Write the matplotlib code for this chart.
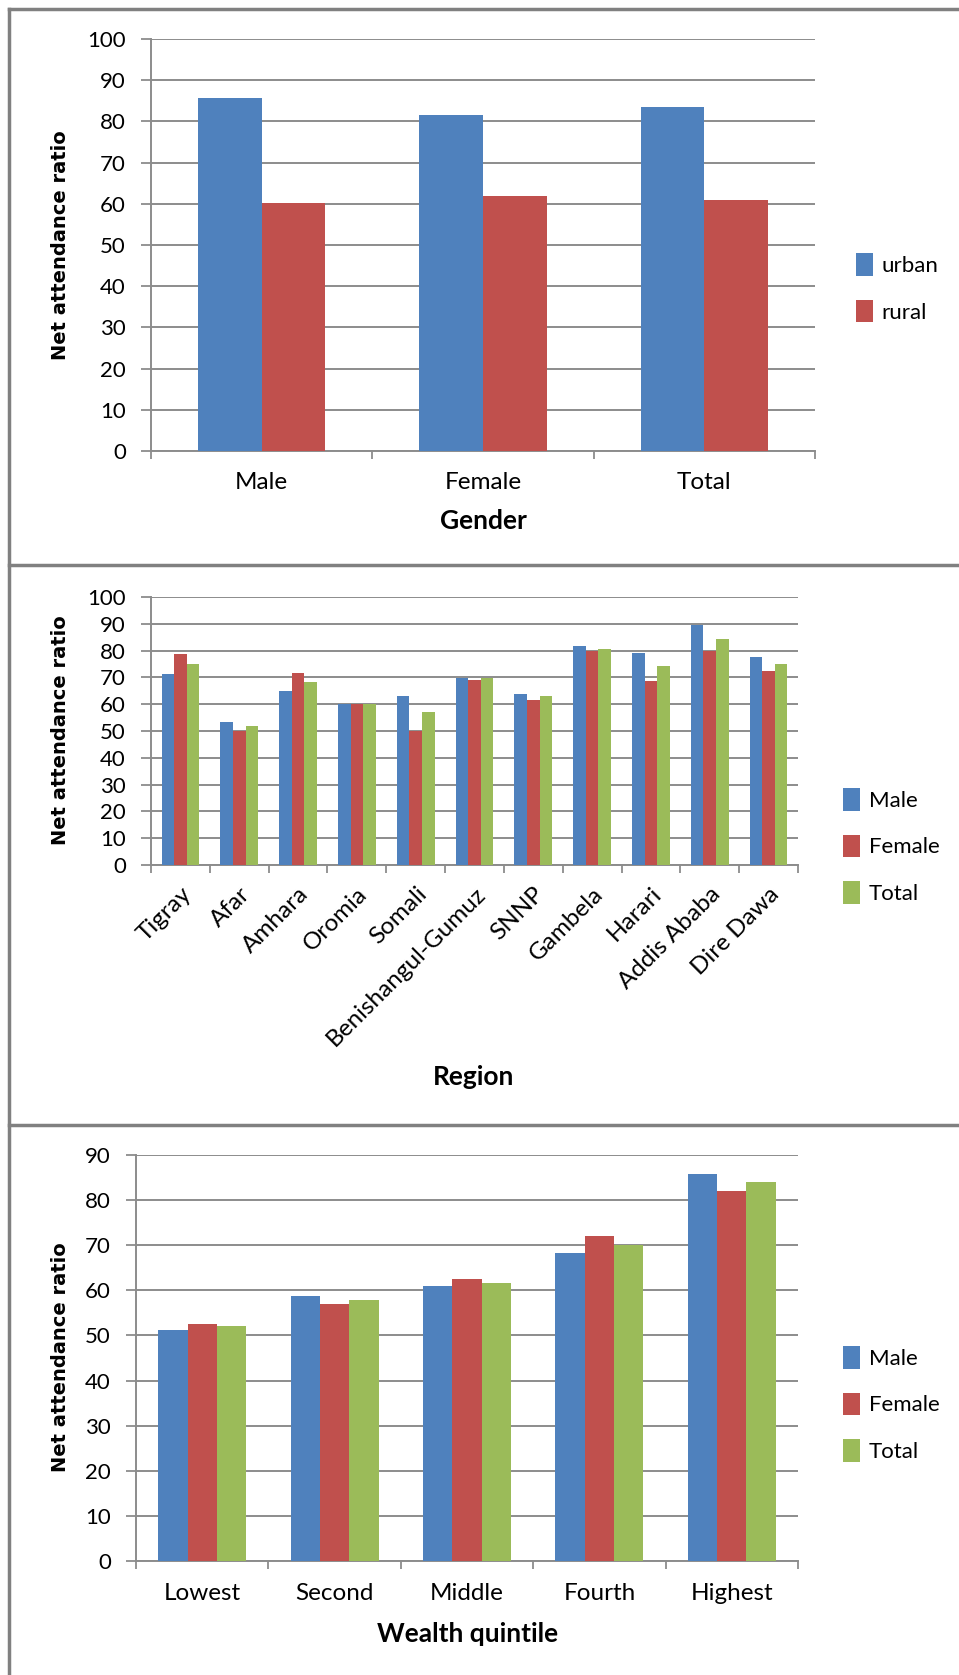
import matplotlib
matplotlib.use('Agg')
from matplotlib import pyplot as plt
from matplotlib.lines import Line2D
import numpy as np

plt.rcParams['font.family'] = ['Lato', 'DejaVu Sans']

# attendance by gender, urban vs rural
genders = ['Male', 'Female', 'Total']
urban = [85.8, 81.5, 83.5]
rural = [60.2, 62.0, 61.0]

# attendance by region
regions = ['Tigray', 'Afar', 'Amhara', 'Oromia', 'Somali', 'Benishangul-Gumuz',
           'SNNP', 'Gambela', 'Harari', 'Addis Ababa', 'Dire Dawa']
region_male = [71.3, 53.3, 65.0, 60.0, 63.0, 69.8, 63.9, 81.9, 79.1, 89.4, 77.5]
region_female = [78.7, 50.1, 71.8, 60.1, 50.1, 69.1, 61.6, 79.9, 68.6, 80.0, 72.3]
region_total = [75.0, 52.0, 68.1, 60.1, 57.1, 69.6, 63.0, 80.5, 74.2, 84.4, 75.1]

# attendance by wealth quintile
quintiles = ['Lowest', 'Second', 'Middle', 'Fourth', 'Highest']
wealth_male = [51.3, 58.7, 60.9, 68.2, 85.7]
wealth_female = [52.6, 57.0, 62.5, 72.0, 82.1]
wealth_total = [52.1, 57.8, 61.7, 70.0, 84.0]

BLUE, RED, GREEN = '#4F81BD', '#C0504D', '#9BBB59'
GRID = '#8c8c8c'
FRAME = '#808080'

W, H = 959, 1675
fig = plt.figure(figsize=(W / 100, H / 100), dpi=100)


def fx(x):
    return x / W


def fy(y):
    return 1 - y / H


def add_axes(left, top, right, bottom):
    return fig.add_axes([fx(left), fy(bottom), (right - left) / W, (bottom - top) / H])


def grouped_bars(ax, cats, series, colors, names, width, ymax):
    n = len(series)
    x = np.arange(len(cats))
    for i, (vals, c, name) in enumerate(zip(series, colors, names)):
        offs = (i - (n - 1) / 2) * width
        ax.bar(x + offs, vals, width, color=c, label=name, zorder=3)
    ax.set_xlim(-0.5, len(cats) - 0.5)
    ax.set_ylim(0, ymax)
    ax.set_yticks(np.arange(0, ymax + 1, 10))
    # category boundaries get the tick marks, centres get the labels
    ax.set_xticks(np.arange(len(cats) + 1) - 0.5)
    ax.set_xticklabels([])
    ax.set_xticks(x, minor=True)
    ax.tick_params(axis='x', which='major', length=6, width=1.3, color=GRID)
    ax.tick_params(axis='x', which='minor', length=0, labelsize=17.5)
    ax.tick_params(axis='y', length=7, width=1.3, color=GRID, labelsize=16, pad=11)
    ax.grid(axis='y', color=GRID, lw=1.4)
    ax.set_axisbelow(True)
    for s in ['top', 'right']:
        ax.spines[s].set_visible(False)
    for s in ['left', 'bottom']:
        ax.spines[s].set_color(GRID)
        ax.spines[s].set_linewidth(1.4)


def ylabel(ax, y):
    ax.set_ylabel('Net attendance ratio', family='DejaVu Sans', fontweight='bold', fontsize=14)
    ax.yaxis.set_label_coords(fx(61), fy(y), transform=fig.transFigure)
    ax.yaxis.label.set_va('center')


def xlabel(ax, text, x, y):
    ax.set_xlabel(text, fontweight='bold', fontsize=19)
    ax.xaxis.set_label_coords(fx(x), fy(y), transform=fig.transFigure)
    ax.xaxis.label.set_va('center')


def legend(ax, x, y):
    ax.legend(loc='center left', bbox_to_anchor=(fx(x), fy(y)), bbox_transform=fig.transFigure,
              frameon=False, fontsize=16, borderpad=0, borderaxespad=0,
              handlelength=0.75, handleheight=1.2, labelspacing=1.05, handletextpad=0.4)


# panel 1: gender
ax1 = add_axes(151, 39, 815, 451)
grouped_bars(ax1, genders, [urban, rural], [BLUE, RED], ['urban', 'rural'], 0.287, 100)
ax1.set_xticklabels(genders, minor=True)
ax1.tick_params(axis='x', which='minor', pad=15)
xlabel(ax1, 'Gender', 483, 521)
ylabel(ax1, 245)
legend(ax1, 856, 288)

# panel 2: region
ax2 = add_axes(151, 597, 798, 865)
grouped_bars(ax2, regions, [region_male, region_female, region_total],
             [BLUE, RED, GREEN], ['Male', 'Female', 'Total'], 0.214, 100)
ax2.set_xticklabels(regions, minor=True, rotation=45, ha='right', rotation_mode='anchor')
ax2.tick_params(axis='x', which='minor', pad=13)
xlabel(ax2, 'Region', 474, 1077)
ylabel(ax2, 730)
legend(ax2, 843, 846)

# panel 3: wealth quintile
ax3 = add_axes(136, 1155, 798, 1561)
grouped_bars(ax3, quintiles, [wealth_male, wealth_female, wealth_total],
             [BLUE, RED, GREEN], ['Male', 'Female', 'Total'], 0.222, 90)
ax3.set_xticklabels(quintiles, minor=True)
ax3.tick_params(axis='x', which='minor', pad=16)
xlabel(ax3, 'Wealth quintile', 468, 1634)
ylabel(ax3, 1357)
legend(ax3, 843, 1404)


# outer frame and panel separators
def hline(y):
    fig.add_artist(Line2D([fx(9), 1], [fy(y)] * 2, transform=fig.transFigure,
                          color=FRAME, lw=2.5))


fig.add_artist(Line2D([fx(9), fx(9)], [0, fy(9)], transform=fig.transFigure,
                      color=FRAME, lw=2.5))
hline(9)
hline(565)
hline(1125)

fig.savefig('out.png', dpi=100, facecolor='white')
